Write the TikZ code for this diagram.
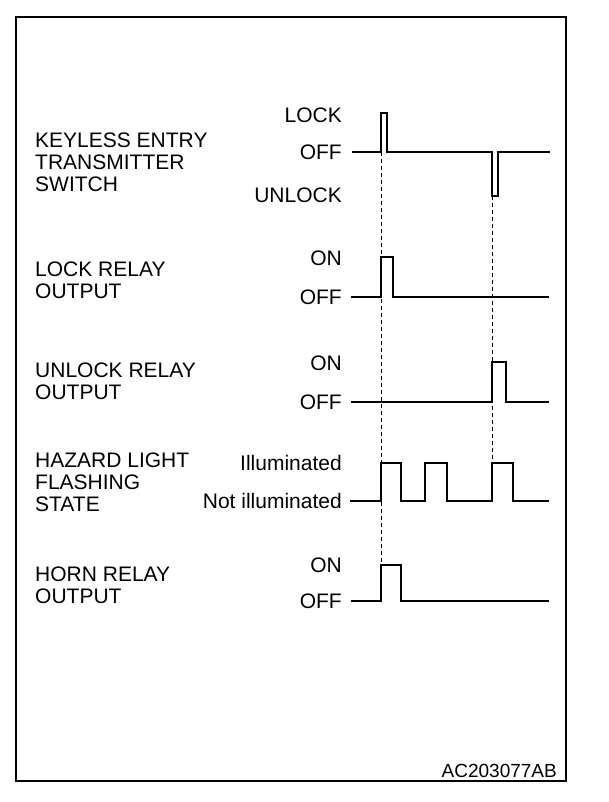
\documentclass[tikz,border=0pt]{standalone}
\usepackage{fontspec}
\setmainfont{Liberation Sans}
\begin{document}
\begin{tikzpicture}[x=1pt, y=-1pt, font=\fontsize{21}{22}\selectfont, line join=miter,
  wave/.style={line width=2.8pt},
  guide/.style={line width=1pt, dash pattern=on 4pt off 3pt},
  lvl/.style={anchor=east, inner sep=0pt},
  signame/.style={anchor=north west, inner sep=0pt, align=left}]
\useasboundingbox (0,0) rectangle (608,802);
\draw[line width=2pt] (16,17) rectangle (566,781);
% signal names
\node[signame] (ks) at (35,133) {KEYLESS ENTRY\\TRANSMITTER\\SWITCH};
\node[signame] (lr) at (35,262) {LOCK RELAY\\OUTPUT};
\node[signame] (ur) at (35,363) {UNLOCK RELAY\\OUTPUT};
\node[signame] (hz) at (35,453) {HAZARD LIGHT\\FLASHING\\STATE};
\node[signame] (hr) at (35,567) {HORN RELAY\\OUTPUT};
% levels
\foreach \n/\y/\t in {ks-lock/115/LOCK, ks-off/152/OFF, ks-unlock/195/UNLOCK,
  lr-on/258/ON, lr-off/297/OFF, ur-on/363/ON, ur-off/402/OFF,
  hz-on/463/Illuminated, hz-off/501/Not illuminated, hr-on/565/ON, hr-off/601/OFF}
  \node[lvl] (\n) at (342,\y) {\t};
% waveforms
\draw[wave] ([xshift=10pt]ks-off.east) -- (381,152) -- (381,113) -- (387,113) -- (387,152)
  -- (492,152) -- (492,196) -- (498,196) -- (498,152) -- (550,152);
\draw[wave] ([xshift=9pt]lr-off.east) -- (381,297) -- (381,257) -- (393,257) -- (393,297) -- (549,297);
\draw[wave] ([xshift=9pt]ur-off.east) -- (492,402) -- (492,362) -- (506,362) -- (506,402) -- (549,402);
\draw[wave] ([xshift=8pt]hz-off.east) -- (381,501) -- (381,463) -- (401,463) -- (401,501)
  -- (425,501) -- (425,463) -- (447,463) -- (447,501)
  -- (492,501) -- (492,463) -- (513,463) -- (513,501) -- (549,501);
\draw[wave] ([xshift=9pt]hr-off.east) -- (381,601) -- (381,565) -- (401,565) -- (401,601) -- (549,601);
% timing guides
\path (381,152) coordinate (t1) (492,196) coordinate (t2);
\draw[guide] (t1) -- (381,565);
\draw[guide] (t2) -- (492,463);
\node[anchor=south east, inner sep=0pt, font=\fontsize{19}{21}\selectfont] (code) at (557,778) {AC203077AB};
\end{tikzpicture}
\end{document}
